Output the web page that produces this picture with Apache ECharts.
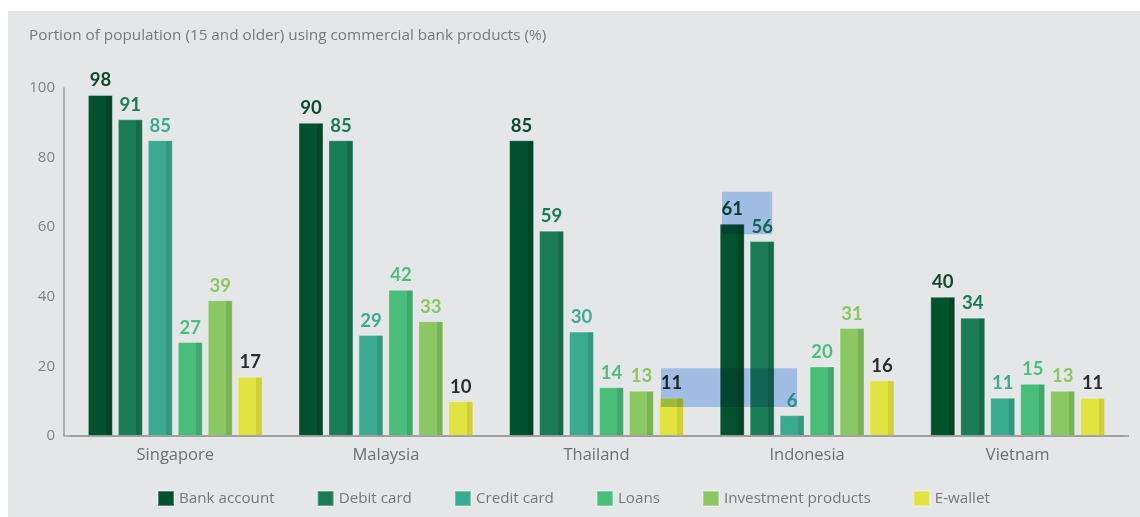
<!DOCTYPE html>
<html>
<head>
<meta charset="utf-8">
<script src="https://cdn.jsdelivr.net/npm/echarts@6/dist/echarts.min.js"></script>
<style>
html,body{margin:0;padding:0;background:#fff;}
#chart{width:1140px;height:517px;}
</style>
</head>
<body>
<div id="chart"></div>
<script>
const categories = ['Singapore', 'Malaysia', 'Thailand', 'Indonesia', 'Vietnam'];
const seriesNames = ['Bank account', 'Debit card', 'Credit card', 'Loans', 'Investment products', 'E-wallet'];
const bankAccount = [98, 90, 85, 61, 40];
const debitCard = [91, 85, 59, 56, 34];
const creditCard = [85, 29, 30, 6, 11];
const loans = [27, 42, 14, 20, 15];
const investmentProducts = [39, 33, 13, 31, 13];
const eWallet = [17, 10, 11, 16, 11];
const yTicks = [0, 20, 40, 60, 80, 100];

const values = [bankAccount, debitCard, creditCard, loans, investmentProducts, eWallet];
const colors = ['#03522e', '#1a7b57', '#3aab90', '#4abd7b', '#8bc762', '#e0e340'];
const darkColors = ['#024625', '#166b4b', '#32987f', '#40a86c', '#7ab353', '#cfd035'];
const labelColors = ['#0b4a2c', '#1b7a56', '#3aab90', '#4cbf7c', '#8cc661', '#2b2b2b'];

const textFont = 'Open Sans';

const chart = echarts.init(document.getElementById('chart'), null, {renderer: 'canvas'});

const series = seriesNames.map((name, i) => ({
  name: name,
  type: 'bar',
  data: values[i],
  barGap: '20%',
  barCategoryGap: '17%',
  itemStyle: {
    color: {
      type: 'linear', x: 0, y: 0, x2: 1, y2: 0,
      colorStops: [
        {offset: 0, color: colors[i]},
        {offset: 0.74, color: colors[i]},
        {offset: 0.74, color: darkColors[i]},
        {offset: 1, color: darkColors[i]}
      ]
    },
    borderColor: 'rgba(255,255,255,0.3)',
    borderWidth: 1
  },
  label: {
    show: true,
    position: 'top',
    distance: 5,
    color: labelColors[i],
    fontFamily: 'Lato',
    fontWeight: 'bold',
    fontSize: 18.5
  }
}));

const option = {
  backgroundColor: '#ffffff',
  animation: false,
  color: colors,
  title: {
    text: 'Portion of population (15 and older) using commercial bank products (%)',
    left: 29,
    top: 28,
    padding: 0,
    textStyle: {fontFamily: textFont, fontSize: 15.3, fontWeight: 'normal', color: '#777777'}
  },
  legend: {
    left: 157,
    top: 490,
    padding: 0,
    itemWidth: 16,
    itemHeight: 15,
    itemGap: 42,
    icon: 'rect',
    textStyle: {fontFamily: textFont, fontSize: 15.2, color: '#777777'},
    data: seriesNames.map((n, i) => ({name: n, itemStyle: {color: colors[i]}}))
  },
  grid: {left: 70, right: 17, top: 88, bottom: 81, containLabel: false},
  xAxis: {
    type: 'category',
    data: categories,
    axisLine: {lineStyle: {color: '#9a9a9a', width: 1.5}},
    axisTick: {show: false},
    axisLabel: {fontFamily: textFont, fontSize: 16.5, color: '#6e6e6e', margin: 11}
  },
  yAxis: {
    type: 'value',
    offset: 6,
    min: yTicks[0],
    max: yTicks[yTicks.length - 1],
    interval: yTicks[1] - yTicks[0],
    axisLine: {show: true, lineStyle: {color: '#9a9a9a', width: 1.5}},
    axisTick: {show: false},
    splitLine: {show: false},
    axisLabel: {fontFamily: textFont, fontSize: 15, color: '#808080', margin: 9}
  },
  series: series
};

chart.setOption(option);

// background panel, x-axis extension and highlight boxes
const cx = (c) => chart.convertToPixel({xAxisIndex: 0}, c);
const py = (v) => chart.convertToPixel({yAxisIndex: 0}, v);
const bandW = cx(categories[1]) - cx(categories[0]);

const box1 = {x1: cx('Indonesia') - 0.404 * bandW, x2: cx('Indonesia') - 0.166 * bandW, y1: py(70.2), y2: py(58.0)};
const box2 = {x1: cx('Thailand') + 0.306 * bandW, x2: cx('Indonesia') - 0.0475 * bandW, y1: py(19.5), y2: py(8.3)};
const axisY = py(0);
const left0 = cx(categories[0]) - bandW / 2;
const right0 = cx(categories[categories.length - 1]) + bandW / 2;

chart.setOption({
  graphic: [
    {type: 'rect', z: -10, silent: true, shape: {x: 8, y: 11, width: 1140, height: 520}, style: {fill: '#e5e6e8'}},
    {type: 'line', z: 5, silent: true, shape: {x1: left0 - 6, y1: axisY, x2: right0 + 6, y2: axisY}, style: {stroke: '#9a9a9a', lineWidth: 1.5}},
    {type: 'rect', z: 100, silent: true, shape: {x: box1.x1, y: box1.y1, width: box1.x2 - box1.x1, height: box1.y2 - box1.y1}, style: {fill: '#b4d2fb', blend: 'multiply'}},
    {type: 'rect', z: 100, silent: true, shape: {x: box2.x1, y: box2.y1, width: box2.x2 - box2.x1, height: box2.y2 - box2.y1}, style: {fill: '#b4d2fb', blend: 'multiply'}}
  ]
});
</script>
</body>
</html>
